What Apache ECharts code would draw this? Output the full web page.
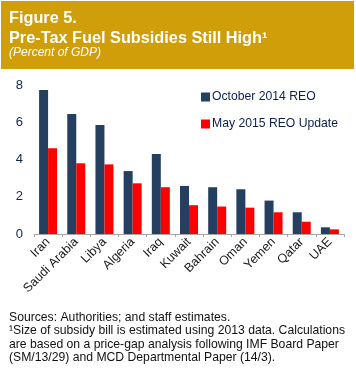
<!DOCTYPE html>
<html>
<head>
<meta charset="utf-8">
<script src="https://cdn.jsdelivr.net/npm/echarts@6/dist/echarts.min.js"></script>
<style>
html,body{margin:0;padding:0;background:#fff;}
#c{width:356px;height:370px;}
</style>
</head>
<body>
<div id="c"></div>
<script>
const categories = ['Iran','Saudi Arabia','Libya','Algeria','Iraq','Kuwait','Bahrain','Oman','Yemen','Qatar','UAE'];
const oct2014 = [7.76, 6.47, 5.87, 3.39, 4.31, 2.59, 2.52, 2.41, 1.80, 1.17, 0.36];
const may2015 = [4.62, 3.81, 3.75, 2.73, 2.52, 1.55, 1.48, 1.42, 1.17, 0.66, 0.25];
const yTicks = [0, 2, 4, 6, 8];
const seriesNames = ['October 2014 REO', 'May 2015 REO Update'];
const titleLines = ['Figure 5.', 'Pre-Tax Fuel Subsidies Still High\u00b9'];
const subtitle = '(Percent of GDP)';
const footnote = 'Sources: Authorities; and staff estimates.\n\u00b9Size of subsidy bill is estimated using 2013 data. Calculations\nare based on a price-gap analysis following IMF Board Paper\n(SM/13/29) and MCD Departmental Paper (14/3).';

const chart = echarts.init(document.getElementById('c'), null, {renderer:'canvas'});
const font = 'Liberation Sans, Arial, sans-serif';
chart.setOption({
  animation: false,
  backgroundColor: '#fff',
  textStyle: {fontFamily: font},
  graphic: [
    {type:'rect', shape:{x:1, y:1, width:353, height:68}, style:{fill:'#D09E08'}, silent:true},
    {type:'text', left:9, top:11, style:{text:titleLines[0], fill:'#fff', font:'bold 16.3px ' + font}},
    {type:'text', left:9, top:31, style:{text:titleLines[1], fill:'#fff', font:'bold 16.3px ' + font}},
    {type:'text', left:9, top:47, style:{text:subtitle, fill:'#fff', font:'italic 12px ' + font}},
    {type:'text', left:9, top:311, style:{text:footnote, fill:'#111', font:'12.2px ' + font, lineHeight:13.3}}
  ],
  legend: {
    orient:'vertical', left:196, top:86, itemWidth:9, itemHeight:9, itemGap:15,
    icon:'rect',
    textStyle:{fontSize:12.2, color:'#0F1F4A', fontFamily:font, padding:[0,0,0,-3]},
    data: seriesNames
  },
  grid: {left:34, right:12, top:85.5, bottom:136, containLabel:false},
  xAxis: {
    type:'category', data:categories,
    axisLine:{show:true, lineStyle:{color:'#A6A6A6', width:1}},
    axisTick:{show:true, length:3, lineStyle:{color:'#A6A6A6'}},
    axisLabel:{rotate:45, fontSize:12.5, color:'#1a1a1a', margin:6, interval:0, fontFamily:font}
  },
  yAxis: {
    type:'value', min:0, max:8, interval:2,
    axisLine:{show:false}, axisTick:{show:false}, splitLine:{show:false},
    axisLabel:{fontSize:13, color:'#14254F', margin:11, fontFamily:font,
      formatter: v => yTicks.includes(v) ? String(v) : ''}
  },
  series: [
    {name:seriesNames[0], type:'bar', data:oct2014, barWidth:9, barGap:'0%', itemStyle:{color:'#243F60'}},
    {name:seriesNames[1], type:'bar', data:may2015, barWidth:9, barGap:'0%', itemStyle:{color:'#FF0000'}}
  ]
});
</script>
</body>
</html>
